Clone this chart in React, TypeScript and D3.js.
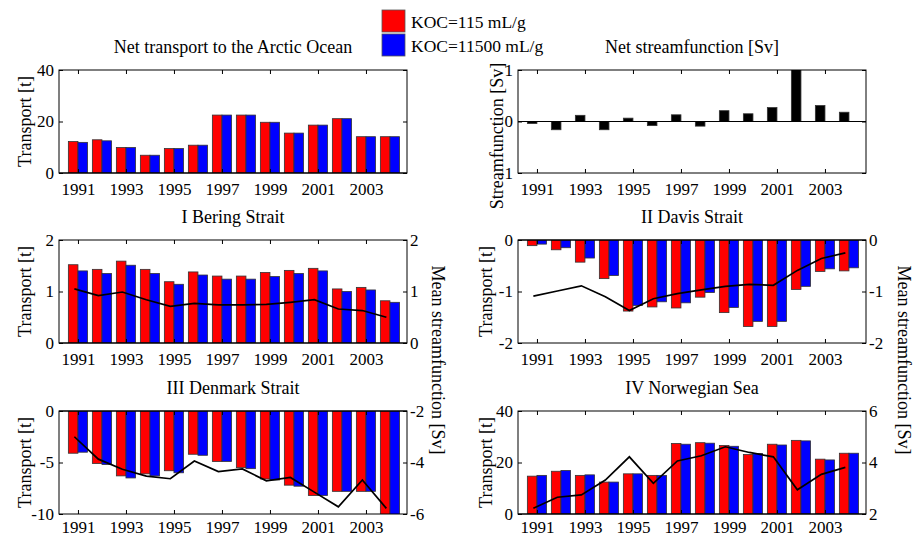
import React, { useEffect, useRef } from "react";
import * as d3 from "d3";

const years = [1991, 1992, 1993, 1994, 1995, 1996, 1997, 1998, 1999, 2000, 2001, 2002, 2003, 2004];
const tickYears = [1991, 1993, 1995, 1997, 1999, 2001, 2003];
const seriesNames = ["KOC=115 mL/g", "KOC=11500 mL/g"];

const netRed = [12.2, 12.9, 9.9, 6.9, 9.5, 10.8, 22.5, 22.5, 19.7, 15.5, 18.6, 21.1, 14.1, 14.1];
const netBlue = [11.9, 12.5, 9.9, 6.9, 9.5, 10.8, 22.5, 22.5, 19.7, 15.5, 18.6, 21.1, 14.1, 14.1];
const netStream = [-0.04, -0.16, 0.12, -0.16, 0.065, -0.08, 0.13, -0.09, 0.21, 0.15, 0.27, 1.05, 0.31, 0.18];

const beringRed = [1.52, 1.43, 1.59, 1.43, 1.19, 1.38, 1.3, 1.3, 1.37, 1.41, 1.45, 1.05, 1.08, 0.82];
const beringBlue = [1.4, 1.35, 1.51, 1.35, 1.14, 1.32, 1.24, 1.24, 1.29, 1.35, 1.4, 1.0, 1.03, 0.79];
const beringStream = [1.05, 0.92, 0.99, 0.84, 0.71, 0.77, 0.74, 0.74, 0.75, 0.79, 0.84, 0.66, 0.63, 0.5];

const davisRed = [-0.11, -0.19, -0.43, -0.75, -1.38, -1.3, -1.32, -1.11, -1.41, -1.68, -1.68, -0.96, -0.61, -0.6];
const davisBlue = [-0.08, -0.15, -0.35, -0.69, -1.27, -1.2, -1.22, -1.02, -1.31, -1.58, -1.58, -0.9, -0.56, -0.54];
const davisStream = [-1.09, -0.99, -0.89, -1.1, -1.37, -1.14, -1.04, -0.97, -0.9, -0.86, -0.88, -0.59, -0.36, -0.25];

const denmarkRed = [-4.1, -5.1, -6.3, -6.1, -5.8, -4.2, -4.9, -5.5, -6.6, -7.2, -8.2, -7.8, -7.8, -10.3];
const denmarkBlue = [-4.0, -5.2, -6.5, -6.3, -6.0, -4.3, -4.9, -5.6, -6.7, -7.3, -8.2, -7.8, -7.8, -10.5];
const denmarkStream = [-3.0, -3.87, -4.26, -4.53, -4.63, -3.94, -4.35, -4.25, -4.71, -4.58, -5.15, -5.72, -4.68, -5.78];

const norwRed = [14.7, 16.6, 15.0, 12.4, 15.6, 15.0, 27.4, 27.7, 26.6, 23.1, 27.1, 28.6, 21.3, 23.6];
const norwBlue = [15.0, 16.9, 15.2, 12.4, 15.6, 15.0, 27.1, 27.5, 26.3, 23.5, 26.8, 28.4, 21.0, 23.6];
const norwStream = [2.22, 2.65, 2.74, 3.32, 4.22, 3.19, 4.06, 4.26, 4.61, 4.39, 4.22, 2.94, 3.54, 3.81];

const FONT = "Liberation Serif, Times New Roman, serif";
const RED = "#ff0000";
const BLUE = "#0000ff";

type Panel = {
  title: string;
  left: number;
  top: number;
  yDomain: [number, number];
  yTicks: number[];
  red?: number[];
  blue?: number[];
  black?: number[];
  line?: number[];
  lineDomain?: [number, number];
  lineTicks?: number[];
  ylabel: string;
  ylabelX: number;
};

const PW = 348;
const PH = 103;

const panels: Panel[] = [
  { title: "Net transport to the Arctic Ocean", left: 59, top: 70, yDomain: [0, 40], yTicks: [0, 20, 40], red: netRed, blue: netBlue, ylabel: "Transport [t]", ylabelX: 25 },
  { title: "Net streamfunction [Sv]", left: 518, top: 70, yDomain: [-1, 1], yTicks: [-1, 0, 1], black: netStream, ylabel: "Streamfunction [Sv]", ylabelX: 497 },
  { title: "I Bering Strait", left: 59, top: 240, yDomain: [0, 2], yTicks: [0, 1, 2], red: beringRed, blue: beringBlue, line: beringStream, lineDomain: [0, 2], lineTicks: [0, 1, 2], ylabel: "Transport [t]", ylabelX: 25 },
  { title: "II Davis Strait", left: 518, top: 240, yDomain: [-2, 0], yTicks: [-2, -1, 0], red: davisRed, blue: davisBlue, line: davisStream, lineDomain: [-2, 0], lineTicks: [-2, -1, 0], ylabel: "Transport [t]", ylabelX: 486 },
  { title: "III Denmark Strait", left: 59, top: 411, yDomain: [-10, 0], yTicks: [-10, -5, 0], red: denmarkRed, blue: denmarkBlue, line: denmarkStream, lineDomain: [-6, -2], lineTicks: [-6, -4, -2], ylabel: "Transport [t]", ylabelX: 25 },
  { title: "IV Norwegian Sea", left: 518, top: 411, yDomain: [0, 40], yTicks: [0, 20, 40], red: norwRed, blue: norwBlue, line: norwStream, lineDomain: [2, 6], lineTicks: [2, 4, 6], ylabel: "Transport [t]", ylabelX: 486 },
];

function styleAxis(g: any) {
  g.select(".domain").remove();
  g.attr("font-family", null).attr("font-size", null);
  g.style("font-family", FONT).style("font-size", "17px");
  g.selectAll("line").attr("stroke", "#000");
  g.selectAll("text").attr("fill", "#000");
}

function drawPanel(svg: any, p: Panel, i: number) {
  const x = d3.scaleLinear().domain([1990.21, 2004.71]).range([p.left, p.left + PW]);
  const y = d3.scaleLinear().domain(p.yDomain).range([p.top + PH, p.top]);
  const g = svg.append("g");

  const clipId = `clip-${i}`;
  svg.append("clipPath").attr("id", clipId).append("rect")
    .attr("x", p.left).attr("y", p.top).attr("width", PW).attr("height", PH);

  const bars = g.append("g").attr("clip-path", `url(#${clipId})`);
  const bw = x(0.4) - x(0);

  const addBars = (vals: number[], offset: number, color: string) => {
    bars.append("g").selectAll("rect").data(years).join("rect")
      .attr("x", (d: number) => x(d + offset))
      .attr("width", bw)
      .attr("y", (d: number, k: number) => Math.min(y(0), y(vals[k])))
      .attr("height", (d: number, k: number) => Math.abs(y(0) - y(vals[k])))
      .attr("fill", color)
      .attr("stroke", "#333")
      .attr("stroke-width", 0.8);
  };
  if (p.red) addBars(p.red, -0.4, RED);
  if (p.blue) addBars(p.blue, 0, BLUE);
  if (p.black) addBars(p.black, -0.4, "#000");

  // baseline at zero
  g.append("line")
    .attr("x1", p.left).attr("x2", p.left + PW)
    .attr("y1", y(0)).attr("y2", y(0))
    .attr("stroke", "#000").attr("stroke-width", 1.2);

  let yR: any = null;
  if (p.line && p.lineDomain) {
    yR = d3.scaleLinear().domain(p.lineDomain).range([p.top + PH, p.top]);
    const line = d3.line<number>()
      .x((d, k) => x(years[k] - 0.15))
      .y((d) => yR(d));
    g.append("path")
      .datum(p.line)
      .attr("clip-path", `url(#${clipId})`)
      .attr("d", line)
      .attr("fill", "none")
      .attr("stroke", "#000")
      .attr("stroke-width", 1.7);
  }

  // box
  g.append("rect")
    .attr("x", p.left).attr("y", p.top).attr("width", PW).attr("height", PH)
    .attr("fill", "none").attr("stroke", "#000").attr("stroke-width", 1);

  // axes (bottom row sits against the page edge, so pull its labels up a little)
  const pad = p.top > 400 ? 7 : 10;
  const bottom = g.append("g").attr("transform", `translate(0,${p.top + PH})`)
    .call(d3.axisBottom(x).tickValues(tickYears).tickSize(-4).tickPadding(pad).tickFormat(d3.format("d")));
  styleAxis(bottom);
  const topAx = g.append("g").attr("transform", `translate(0,${p.top})`)
    .call(d3.axisTop(x).tickValues(tickYears).tickSize(-4).tickFormat(() => ""));
  styleAxis(topAx);
  const leftAx = g.append("g").attr("transform", `translate(${p.left},0)`)
    .call(d3.axisLeft(y).tickValues(p.yTicks).tickSize(-4).tickPadding(5).tickFormat((d: any) => String(d)));
  styleAxis(leftAx);
  if (yR) {
    const rightAx = g.append("g").attr("transform", `translate(${p.left + PW},0)`)
      .call(d3.axisRight(yR).tickValues(p.lineTicks).tickSize(-4).tickPadding(3).tickFormat((d: any) => String(d)));
    styleAxis(rightAx);
  } else {
    const rightAx = g.append("g").attr("transform", `translate(${p.left + PW},0)`)
      .call(d3.axisRight(y).tickValues(p.yTicks).tickSize(-4).tickFormat(() => ""));
    styleAxis(rightAx);
  }

  // title
  g.append("text")
    .attr("x", p.left + PW / 2).attr("y", p.top - 17)
    .attr("text-anchor", "middle")
    .style("font-family", FONT).style("font-size", "18px")
    .text(p.title);

  // y label
  const cy = p.ylabel === "Streamfunction [Sv]" ? 136 : p.top + PH / 2;
  g.append("text")
    .attr("transform", `translate(${p.ylabelX},${cy}) rotate(-90)`)
    .attr("dy", "0.35em")
    .attr("text-anchor", "middle")
    .style("font-family", FONT).style("font-size", "18px")
    .text(p.ylabel);
}

export default function App() {
  const ref = useRef<SVGSVGElement>(null);

  useEffect(() => {
    if (!ref.current) return;
    const svg = d3.select(ref.current);
    svg.selectAll("*").remove();

    panels.forEach((p, i) => drawPanel(svg, p, i));

    // right-hand labels shared by the plotyy panels
    [438, 904].forEach((cx) => {
      svg.append("text")
        .attr("transform", `translate(${cx},360) rotate(90)`)
        .attr("dy", "0.35em")
        .attr("text-anchor", "middle")
        .style("font-family", FONT).style("font-size", "18px")
        .text("Mean streamfunction [Sv]");
    });

    // legend
    const legend = svg.append("g").selectAll("g").data(seriesNames).join("g")
      .attr("transform", (d, i) => `translate(382,${10 + i * 24})`);
    legend.append("rect")
      .attr("width", 23).attr("height", 22)
      .attr("fill", (d, i) => (i === 0 ? RED : BLUE))
      .attr("stroke", "#555").attr("stroke-width", 0.8);
    legend.append("text")
      .attr("x", 29).attr("y", 18)
      .style("font-family", FONT).style("font-size", "17.5px")
      .text((d) => d);
  }, []);

  return (
    <svg
      ref={ref}
      width={914}
      height={538}
      style={{ position: "absolute", left: 0, top: 0, background: "#fff", fontFamily: FONT }}
    />
  );
}
